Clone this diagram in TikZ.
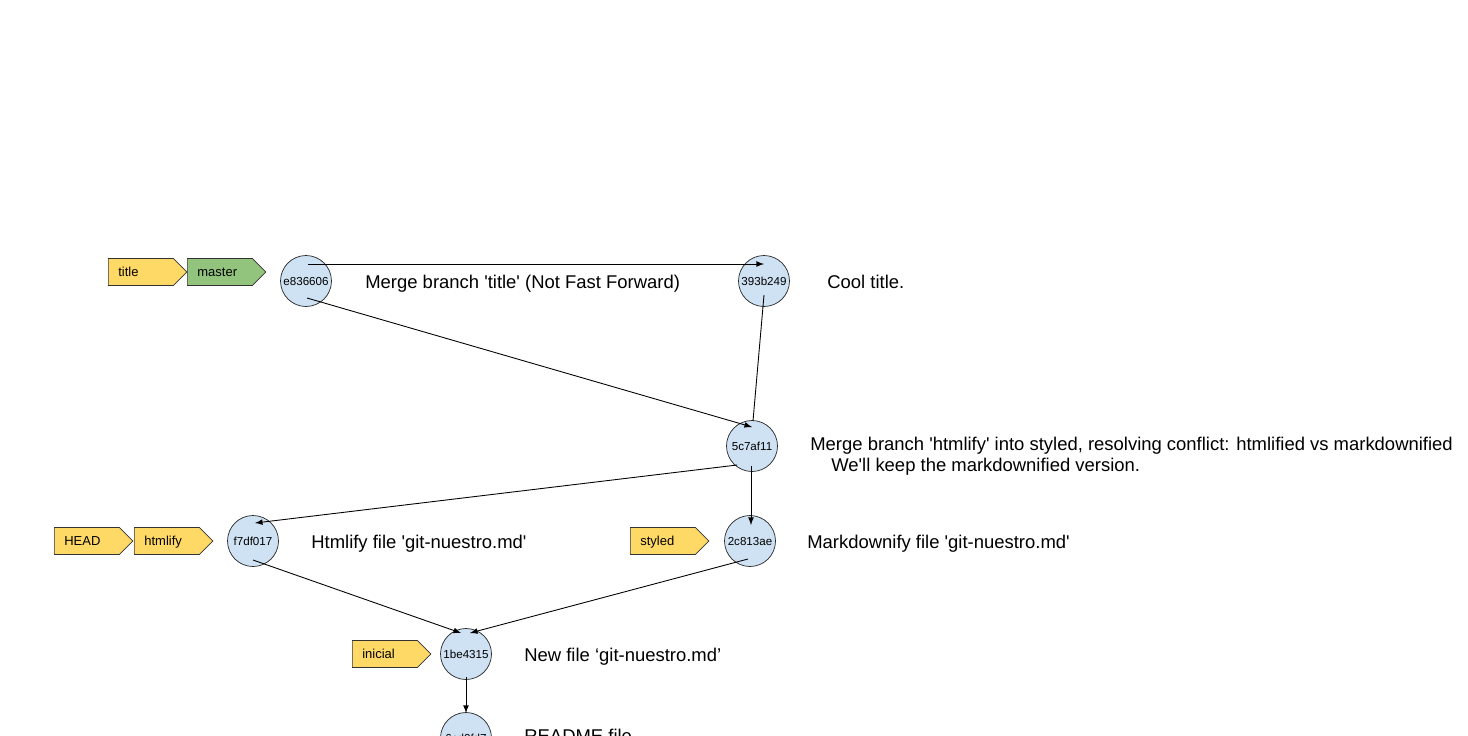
\documentclass[tikz,border=0pt]{standalone}
\usepackage{fontspec}
\setmainfont{Liberation Sans}
\usetikzlibrary{shapes.symbols,arrows,calc}
\definecolor{tagyellow}{HTML}{FFD966}
\definecolor{taggreen}{HTML}{93C47D}
\definecolor{commitblue}{HTML}{CFE2F3}
\newcommand{\sqt}{\textquotesingle}
\tikzstyle{commit} = [circle, minimum size=1.02cm, inner sep=0pt, draw=black!85, fill=commitblue, font=\fontsize{6.6}{8}\selectfont]
\tikzstyle{tag} = [signal, signal to=east, signal pointer angle=90, minimum height=0.54cm, text width=0.9cm, text height=6.8pt, text depth=1.2pt, inner xsep=0.2cm, inner ysep=0pt, align=left, draw=black!80, fill=tagyellow, font=\fontsize{7.4}{9}\selectfont, anchor=west]
\tikzstyle{branch} = [tag, fill=taggreen]
\tikzstyle{msg} = [anchor=base west, inner sep=0pt, font=\fontsize{10.5}{11.9}\selectfont]
\tikzstyle{arrow} = [line width=0.5pt,->,>=latex]
\tikzstyle{link} = [line width=0.5pt]

\begin{document}
\begin{tikzpicture}[x=0.02cm, y=-0.02cm]
\useasboundingbox (0,0) rectangle (1468,735);

% commits
\node(mtitle) [commit] at (306,281) {e836606};
\node(cool) [commit] at (764,281) {393b249};
\node(mhtml) [commit] at (752,446) {5c7af11};
\node(html) [commit] at (253,541) {f7df017};
\node(mdown) [commit] at (750,541) {2c813ae};
\node(new) [commit] at (466,654) {1be4315};
\node(readme) [commit] at (466,738) {6cd0fd7};

% refs
\node(ttitle) [tag] at (108,272) {title};
\node(tmaster) [branch] at (187,272) {master};
\node(thead) [tag] at (54,541) {HEAD};
\node(thtml) [tag] at (134,541) {htmlify};
\node(tstyled) [tag] at (630,541) {styled};
\node(tinicial) [tag] at (352,654) {inicial};

% messages
\node(l1) [msg] at (365,288) {Merge branch \sqt title\sqt{} (Not Fast Forward)};
\node(l2) [msg] at (827,288) {Cool title.};
\node(l3) [msg, align=left, anchor=west] at (810,456) {Merge branch \sqt htmlify\sqt{} into styled, resolving conflict: htmlified vs markdownified\\\hspace*{0.42cm}We\sqt ll keep the markdownified version.};
\node(l4) [msg] at (311,548) {Htmlify file \sqt git-nuestro.md\sqt};
\node(l5) [msg] at (807,548) {Markdownify file \sqt git-nuestro.md\sqt};
\node(l6) [msg] at (524,661) {New file ‘git-nuestro.md’};
\node(l7) [msg] at (524,742) {README file};

\draw [arrow] ($(mtitle)+(2,-17)$) -- ($(cool)+(0,-17)$);
\draw [arrow] ($(mtitle)+(1,17)$) -- ($(mhtml)+(0,-19)$);
\draw [link] ($(cool)+(0,14)$) -- ($(mhtml)+(1,-25)$);
\draw [arrow] ($(mhtml)+(-15,19)$) -- ($(html)+(2,-18)$);
\draw [arrow] ($(mhtml)+(-1,20)$) -- ($(mdown)+(1,-16)$);
\draw [arrow] ($(html)+(0,19)$) -- ($(new)+(-5,-21)$);
\draw [arrow] ($(mdown)+(-2,18)$) -- ($(new)+(4,-21)$);
\draw [arrow] ($(new)+(0,23)$) -- ($(readme)+(0,-25)$);

\end{tikzpicture}
\end{document}
